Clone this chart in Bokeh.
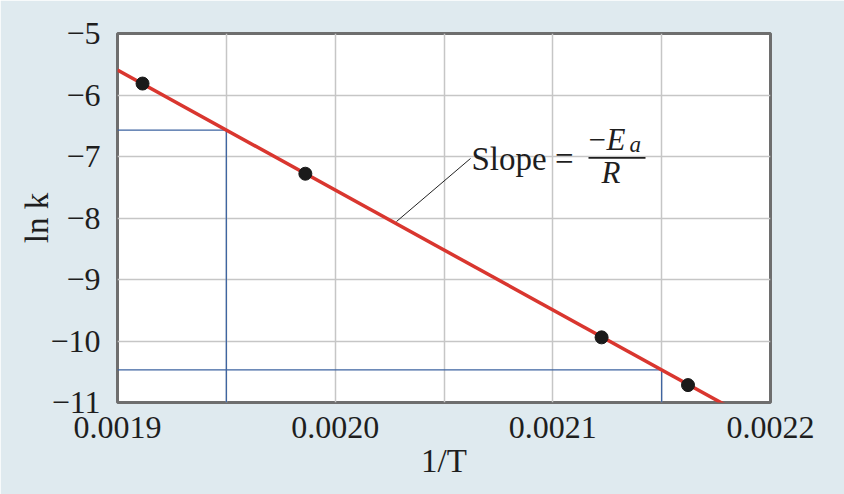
import math
from bokeh.plotting import figure
from bokeh.models import Range1d, FixedTicker, Label
from bokeh.embed import file_html
from bokeh.resources import INLINE

# ---------------- data ----------------
x_ticks = [0.0019, 0.0020, 0.0021, 0.0022]
x_tick_labels = ["0.0019", "0.0020", "0.0021", "0.0022"]
x_minor = [0.00195, 0.00205, 0.00215]
y_ticks = [-11, -10, -9, -8, -7, -6, -5]
y_tick_labels = ["\u221211", "\u221210", "\u22129", "\u22128", "\u22127", "\u22126", "\u22125"]

inv_T = [0.0019115, 0.0019863, 0.0021224, 0.0021621]
ln_k = [-5.814, -7.280, -9.941, -10.717]

fit_x = [0.0019, 0.0022]
fit_y = [-5.595, -11.445]

guide_x = [0.00195, 0.00215]
guide_y = [-6.57, -10.47]

X_MIN, X_MAX = 0.0019, 0.0022
Y_MIN, Y_MAX = -11, -5

# ---------------- layout helpers (reference pixel -> data) ----------------
W, H = 844, 494
FL, FR, FT, FB = 117, 770, 33, 402
LABEL_SHIFT = 12  # empirical baseline correction for Label


def dx(px):
    return X_MIN + (px - FL) / (FR - FL) * (X_MAX - X_MIN)


def dy(py):
    return Y_MAX - (py - FT) / (FB - FT) * (Y_MAX - Y_MIN)


FONT = "Liberation Serif"
BG = "#dfeaef"
TXT = "#1e1e1e"

p = figure(width=W, height=H, output_backend="svg", toolbar_location=None,
           x_range=Range1d(X_MIN, X_MAX), y_range=Range1d(Y_MIN, Y_MAX),
           min_border_left=FL, min_border_right=W - FR,
           min_border_top=FT, min_border_bottom=H - FB)

p.background_fill_color = "white"
p.border_fill_color = BG
p.outline_line_color = "#6e6e6e"
p.outline_line_width = 3

p.xaxis.ticker = FixedTicker(ticks=x_ticks, minor_ticks=x_minor)
p.yaxis.ticker = FixedTicker(ticks=y_ticks)
p.xaxis.major_label_overrides = dict(zip(x_ticks, x_tick_labels))
p.yaxis.major_label_overrides = dict(zip(y_ticks, y_tick_labels))

for ax in (p.xaxis, p.yaxis):
    ax.axis_line_color = None
    ax.major_tick_line_color = None
    ax.minor_tick_line_color = None
    ax.major_label_text_font = FONT
    ax.major_label_text_font_size = "32px"
    ax.major_label_text_color = TXT
    ax.axis_label_text_font = FONT
    ax.axis_label_text_font_size = "33px"
    ax.axis_label_text_font_style = "normal"
    ax.axis_label_text_color = TXT
p.xaxis.major_label_standoff = 8
p.yaxis.major_label_standoff = 11
p.xaxis.axis_label = "1/T"
p.yaxis.axis_label = "ln k"
p.xaxis.axis_label_standoff = 2
p.yaxis.axis_label_standoff = -8

grid_col = "#c6c6c6"
p.xgrid.grid_line_color = grid_col
p.xgrid.grid_line_width = 1.5
p.xgrid.minor_grid_line_color = grid_col
p.xgrid.minor_grid_line_width = 1.5
p.ygrid.grid_line_color = grid_col
p.ygrid.grid_line_width = 1.5

# guide lines (blue)
blue = "#3d63a0"
p.segment(x0=[X_MIN] * len(guide_x), y0=guide_y, x1=guide_x, y1=guide_y,
          line_color=blue, line_width=1.3)
p.segment(x0=guide_x, y0=[Y_MIN] * len(guide_x), x1=guide_x, y1=guide_y,
          line_color=blue, line_width=1.3)

# fitted line
p.line(fit_x, fit_y, line_color="#d9362f", line_width=3.5)

# data points
p.scatter(inv_T, ln_k, size=13, color="#1a1a1a")

# leader line for annotation
p.segment(x0=[dx(396)], y0=[dy(221)], x1=[dx(470)], y1=[dy(158)],
          line_color="#222222", line_width=1)

# fraction bar
p.segment(x0=[dx(588)], y0=[dy(157.3)], x1=[dx(645)], y1=[dy(157.3)],
          line_color=TXT, line_width=1.8)


def lab(text, px, py, size, italic=False, align="left"):
    p.add_layout(Label(x=dx(px), y=dy(py - LABEL_SHIFT), text=text, text_font=FONT,
                       text_font_size=size, text_color=TXT,
                       text_font_style="italic" if italic else "normal",
                       text_align=align, text_baseline="alphabetic"))


# annotation "Slope = -Ea/R"
lab("Slope =", 471, 170, "33px")
lab("\u2212", 588, 151, "31px")
lab("E", 606, 151, "31px", italic=True)
lab("a", 629, 156, "23px", italic=True)
lab("R", 601, 184, "31px", italic=True)

open("out.html", "w").write(file_html(p, INLINE))
